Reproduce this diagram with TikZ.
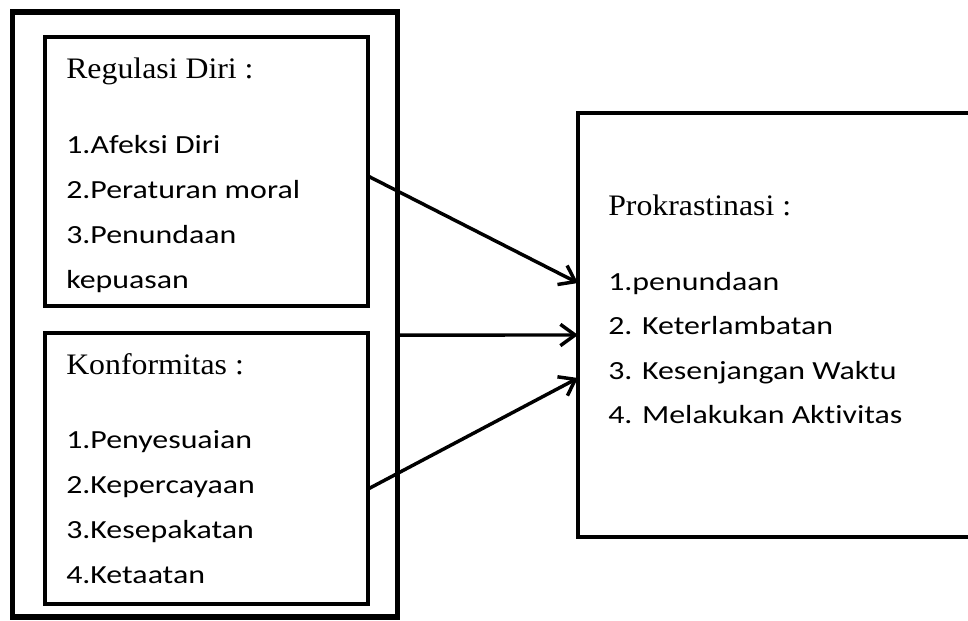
\documentclass[tikz,border=0pt]{standalone}
\usepackage{fontspec}
\setmainfont{Liberation Serif}
\newfontfamily\titlefont[FakeStretch=1.07]{Liberation Serif}
\newfontfamily\itemfont[FakeStretch=1.22,Ligatures=NoCommon]{Carlito}
\usetikzlibrary{arrows.meta}

\begin{document}
\begin{tikzpicture}[
  x=0.75pt, y=-0.75pt,
  outerbox/.style={rectangle,draw,line width=4pt,outer sep=0pt,inner sep=0pt},
  varbox/.style={rectangle,draw,line width=3pt,outer sep=0pt,inner sep=0pt},
  title/.style={anchor=base west,inner sep=0pt,font=\titlefont\fontsize{22.3}{25}\selectfont},
  item/.style={anchor=base west,inner sep=0pt,font=\itemfont\fontsize{19.6}{22}\selectfont},
  link/.style={-{Straight Barb[length=11pt,width=16pt]},line width=2.6pt},
]
  \clip (0,0) rectangle (968,621);
  \node[outerbox,minimum width=288.75pt,minimum height=453.75pt] (outer) at (205,314.5) {};
  \node[varbox,minimum width=242.25pt,minimum height=201.75pt] (reg) at (206.5,171.5) {};
  \node[varbox,minimum width=242.25pt,minimum height=203.25pt] (konf) at (206.5,468.5) {};
  \node[varbox,line width=3.2pt,minimum width=391.5pt,minimum height=318pt] (prok) at (839,325) {};

  \node[title] (regt) at (66,78) {Regulasi Diri :};
  \foreach \t [count=\i] in {1.Afeksi Diri,2.Peraturan moral,3.Penundaan,kepuasan}
    \node[item] (reg\i) at (66,{153+45*(\i-1)}) {\t};

  \node[title] (konft) at (66,374) {Konformitas :};
  \foreach \t [count=\i] in {1.Penyesuaian,2.Kepercayaan,3.Kesepakatan,4.Ketaatan}
    \node[item] (konf\i) at (66,{448+45*(\i-1)}) {\t};

  \node[title] (prokt) at (608,215) {Prokrastinasi :};
  \foreach \t [count=\i] in {1.penundaan,2. Keterlambatan,3. Kesenjangan Waktu,4. Melakukan Aktivitas}
    \node[item] (prok\i) at (608,{290+44.5*(\i-1)}) {\t};

  \draw[link] ([yshift=-3.4pt]reg.east) -- ([yshift=31.5pt]prok.west);
  \draw[link] ([yshift=-15.4pt]outer.east) -- ([yshift=-7.5pt]prok.west);
  \draw[link] ([yshift=-15.4pt]konf.east) -- ([yshift=-39.75pt]prok.west);
\end{tikzpicture}
\end{document}
